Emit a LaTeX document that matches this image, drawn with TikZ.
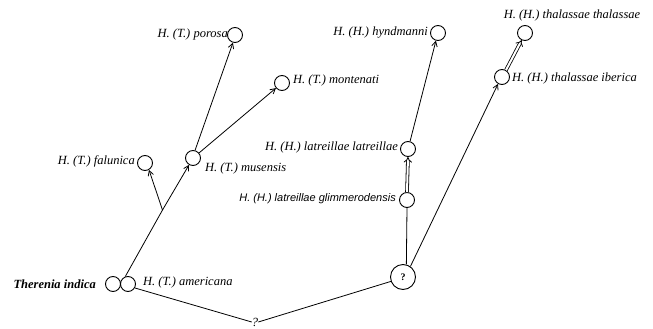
\documentclass[tikz,border=0pt]{standalone}
\usepackage{fontspec}
\setmainfont{Liberation Serif}
\newfontfamily\labsans{Liberation Sans}
\usetikzlibrary{arrows.meta}
\begin{document}
\begin{tikzpicture}[x=1pt,y=-1pt,
  sp/.style={circle,draw,line width=0.9pt,minimum size=15pt,inner sep=0pt},
  lab/.style={font=\fontsize{12.5}{14}\selectfont\itshape,inner sep=0pt},
  slab/.style={font=\labsans\fontsize{11}{12}\selectfont\itshape,inner sep=0pt},
  edge/.style={line width=0.8pt,-{Straight Barb[length=5pt,width=5.5pt]}},
  plain/.style={line width=0.8pt},
  dbl/.style={double,double distance=2pt,line width=0.8pt,-{Implies[scale=1.3]}}
]
\useasboundingbox (0,0) rectangle (653,329);
% circles
\node[sp] (ti) at (113,284) {};
\node[sp] (am) at (128,284) {};
\node[sp] (fa) at (145,163) {};
\node[sp] (mu) at (193,158) {};
\node[sp] (po) at (235,35) {};
\node[sp] (mo) at (282,83) {};
\node[sp,minimum size=25pt,font=\fontsize{10}{10}\selectfont\bfseries] (q) at (403,277) {?};
\node[sp] (gl) at (407,200) {};
\node[sp] (ll) at (408,149) {};
\node[sp] (hy) at (438,33) {};
\node[sp] (ib) at (502,77) {};
\node[sp] (th) at (525,33) {};
% labels
\node[lab,font=\fontsize{12.5}{14}\selectfont\bfseries\itshape,anchor=east] (tiL) at (96,284) {Therenia indica};
\node[lab,anchor=west] (amL) at (143,282) {H. (T.) americana};
\node[lab,anchor=east] (faL) at (135,161) {H. (T.) falunica};
\node[lab,anchor=west] (muL) at (205,168) {H. (T.) musensis};
\node[lab,anchor=east] (poL) at (228,34) {H. (T.) porosa};
\node[lab,anchor=west] (moL) at (293,80) {H. (T.) montenati};
\node[slab,anchor=east] (glL) at (396,199) {H. (H.) latreillae glimmerodensis};
\node[lab,anchor=east] (llL) at (398,147) {H. (H.) latreillae latreillae};
\node[lab,anchor=east] (hyL) at (428,33) {H. (H.) hyndmanni};
\node[lab,anchor=west] (ibL) at (512,78) {H. (H.) thalassae iberica};
\node[lab] (thL) at (572,15) {H. (H.) thalassae thalassae};
\node[lab] (qL) at (255,322) {?};
% branch point
\coordinate (b) at (162.5,210);
% connectors
\draw[plain] (am.110) -- (b);
\draw[edge] (b) -- (mu.240);
\draw[edge] (b) -- (fa.-60);
\draw[edge] (mu.75) -- (po.255);
\draw[edge] (mu.40) -- (mo.220);
\draw[plain] (am.-30) -- (qL.west);
\draw[plain] (qL.east) -- (q.200);
\draw[plain] (q.75) -- (gl.south);
\draw[dbl] (gl.north) -- (ll.south);
\draw[edge] (ll.75) -- (hy.255);
\draw[edge] (q.55) -- (ib.240);
\draw[dbl] (ib.60) -- (th.245);
\end{tikzpicture}
\end{document}
